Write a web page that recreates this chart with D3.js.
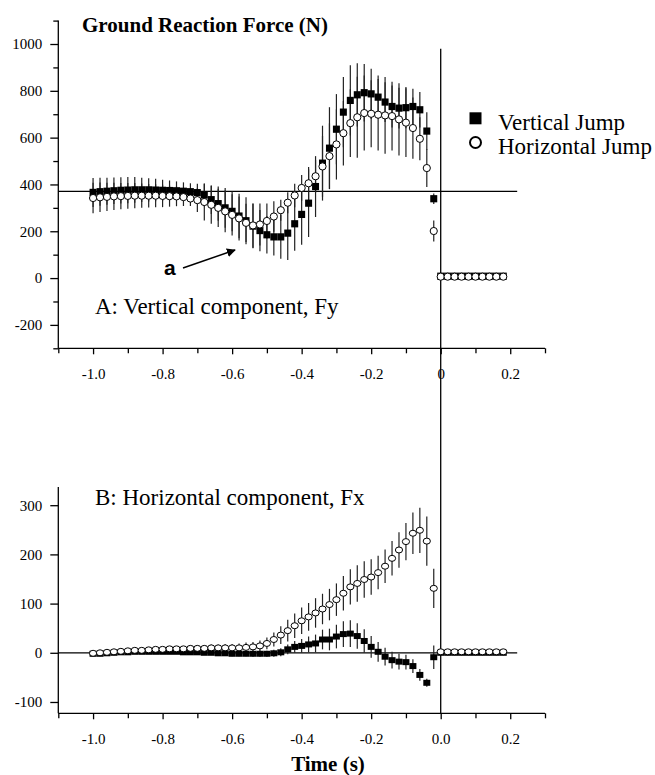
<!DOCTYPE html>
<html><head><meta charset="utf-8">
<script src="https://cdn.jsdelivr.net/npm/d3@7"></script>
<style>body{margin:0;background:#fff}svg{display:block}</style>
</head><body>
<svg id="c" width="655" height="775"></svg>
<script>
// ---------- DATA ----------
const timePre = [-1.00,-0.98,-0.96,-0.94,-0.92,-0.90,-0.88,-0.86,-0.84,-0.82,
  -0.80,-0.78,-0.76,-0.74,-0.72,-0.70,-0.68,-0.66,-0.64,-0.62,
  -0.60,-0.58,-0.56,-0.54,-0.52,-0.50,-0.48,-0.46,-0.44,-0.42,
  -0.40,-0.38,-0.36,-0.34,-0.32,-0.30,-0.28,-0.26,-0.24,-0.22,
  -0.20,-0.18,-0.16,-0.14,-0.12,-0.10,-0.08,-0.06,-0.04,-0.02];
const timePost = [0.00,0.02,0.04,0.06,0.08,0.10,0.12,0.14,0.16,0.18];

// Panel A: vertical component Fy (N)
const fyVertical = [366,369,371,373,375,376,377,377,377,376,
  375,374,373,371,369,365,355,335,318,300,
  285,265,245,222,203,185,176,176,192,232,
  272,320,391,491,555,636,709,759,783,792,
  787,773,752,733,726,728,733,719,628,339,
  8,8,8,8,8,8,8,8,8,8];
const fyVerticalSD = [62,60,58,57,56,56,55,52,50,48,
  45,43,40,38,36,38,48,61,73,85,
  85,95,100,95,88,80,80,93,115,115,
  130,145,130,160,175,150,150,150,135,123,
  107,92,85,90,87,88,76,76,80,22,
  3,3,3,3,3,3,3,3,3,3];
const fyHorizontal = [342,345,347,349,350,351,352,352,352,352,
  351,350,349,346,340,333,325,313,300,285,
  270,255,236,225,229,244,263,290,322,353,
  385,405,435,477,521,571,619,662,687,705,
  702,698,695,692,678,664,641,595,470,201,
  6,6,6,6,6,6,6,6,6,6];
const fyHorizontalSD = [65,63,60,58,56,55,54,52,50,49,
  48,45,42,38,32,51,79,81,82,89,
  88,94,82,95,90,75,65,45,45,50,
  55,70,70,130,140,150,138,145,173,160,
  143,153,164,147,154,147,131,92,81,45,
  3,3,3,3,3,3,3,3,3,3];
const bodyWeightLine = 370;

// Panel B: horizontal component Fx (N)
const fxVertical = [-2,-2,-1,0,1,1,2,2,2,2,
  2,2,2,1,1,1,0,0,-1,-1,
  -2,-2,-2,-2,-2,-2,-1,1,7,12,
  14,17,19,27,27,33,38,39,34,24,
  12,2,-8,-15,-18,-19,-27,-45,-61,-9,
  0,0,0,0,0,0,0,0,0,0];
const fxVerticalSD = [3,3,3,3,3,3,3,3,3,3,
  3,3,3,3,3,3,4,4,4,4,
  5,5,5,6,6,6,7,8,10,12,
  14,16,18,20,22,24,26,27,26,24,
  22,20,18,17,16,15,14,12,8,24,
  2,2,2,2,2,2,2,2,2,2];
const fxHorizontal = [-1,0,1,2,3,4,5,5,6,7,
  7,8,8,8,9,9,9,10,10,10,
  10,10,11,12,14,19,27,36,45,55,
  65,73,81,89,98,108,121,134,141,149,
  154,163,176,192,209,226,243,249,227,131,
  2,2,2,2,2,2,2,2,2,2];
const fxHorizontalSD = [3,3,3,3,3,4,4,4,4,4,
  5,5,5,5,6,6,6,7,7,8,
  8,9,10,10,11,12,14,18,22,25,
  27,28,30,31,32,33,35,36,37,37,
  36,34,34,35,36,38,42,46,50,40,
  2,2,2,2,2,2,2,2,2,2];

const fyTicks = [-200,0,200,400,600,800,1000];
const fyMinor = [-300,-100,100,300,500,700,900,1100];
const fxTicks = [-100,0,100,200,300];
const fxMinor = [];
const timeTicks = [-1.0,-0.8,-0.6,-0.4,-0.2,0.0,0.2];
const timeMinor = [-1.1,-0.9,-0.7,-0.5,-0.3,-0.1,0.1,0.3];
const seriesNames = ["Vertical Jump","Horizontal Jump"];

// ---------- DRAW ----------
const svg = d3.select("#c");
const serif = "'Liberation Serif','Times New Roman',serif";
const times = timePre.concat(timePost);
const hy = s => s.replace("\u2212","-");

const x = d3.scaleLinear().domain([-1.1,0.3]).range([58.3,545]);
const yA = d3.scaleLinear().domain([-300,1100]).range([348.3,20.6]);
const yB = d3.scaleLinear().domain([-123,337]).range([713.3,487]);

function panel(y, v1, s1, v2, s2, hLine, yMajor, yMinor, zeroLabel, ry, lineTop) {
  const g = svg.append("g");
  const ax = g.append("g").attr("transform","translate(58.3,0)");
  ax.call(d3.axisLeft(y).tickValues(yMajor).tickSize(8).tickPadding(8).tickFormat(d=>hy(d3.format("d")(d))));
  if (yMinor.length) {
    const am = g.append("g").attr("transform","translate(58.3,0)");
    am.call(d3.axisLeft(y).tickValues(yMinor).tickSize(5).tickFormat(""));
    am.select(".domain").remove();
  }
  ax.select(".domain").attr("d", `M0,${y.range()[1]}V${y.range()[0]}`);
  const bx = g.append("g").attr("transform",`translate(0,${y.range()[0]})`);
  bx.call(d3.axisBottom(x).tickValues(timeTicks).tickSize(6).tickPadding(14)
     .tickFormat(d => Math.abs(d)<1e-9 ? zeroLabel : hy(d3.format(".1f")(d))));
  bx.select(".domain").attr("d", `M${x.range()[0]},0H${x.range()[1]}`);
  const bm = g.append("g").attr("transform",`translate(0,${y.range()[0]})`);
  bm.call(d3.axisBottom(x).tickValues(timeMinor).tickSize(5).tickFormat(""));
  bm.select(".domain").remove();
  g.selectAll(".tick text").attr("font-family",serif).attr("font-size",15).attr("fill","#000");
  g.selectAll(".domain, .tick line").attr("stroke","#000").attr("stroke-width",1.3);

  g.append("line").attr("x1",x(-1.1)).attr("x2",x(0.22)).attr("y1",y(hLine)).attr("y2",y(hLine))
    .attr("stroke","#000").attr("stroke-width",1.3);
  g.append("line").attr("x1",x(0)).attr("x2",x(0)).attr("y1",lineTop).attr("y2",y.range()[0])
    .attr("stroke","#000").attr("stroke-width",1.3);

  const bars = g.append("g").attr("stroke","#222").attr("stroke-width",1.2);
  [[v1,s1],[v2,s2]].forEach(([v,s])=>{
    bars.selectAll(null).data(times).join("line")
      .attr("x1",d=>x(d)).attr("x2",d=>x(d))
      .attr("y1",(d,i)=>y(v[i]+s[i])).attr("y2",(d,i)=>y(v[i]-s[i]));
  });
  g.append("g").selectAll("rect").data(times).join("rect")
    .attr("x",d=>x(d)-3.5).attr("y",(d,i)=>y(v1[i])-ry)
    .attr("width",7).attr("height",ry*2).attr("fill","#000");
  g.append("g").selectAll("ellipse").data(times).join("ellipse")
    .attr("cx",d=>x(d)).attr("cy",(d,i)=>y(v2[i]))
    .attr("rx",3.6).attr("ry",ry).attr("fill","#fff").attr("stroke","#000").attr("stroke-width",1);
  return g;
}

panel(yA, fyVertical, fyVerticalSD, fyHorizontal, fyHorizontalSD, bodyWeightLine, fyTicks, fyMinor, "0", 3.6, yA(980));
panel(yB, fxVertical, fxVerticalSD, fxHorizontal, fxHorizontalSD, 0, fxTicks, fxMinor, "0.0", 3.0, 348.3);

svg.append("text").attr("x",82).attr("y",32).attr("font-family",serif).attr("font-weight","bold")
  .attr("font-size",21).text("Ground Reaction Force (N)");
svg.append("text").attr("x",95).attr("y",314).attr("font-family",serif).attr("font-size",23)
  .text("A: Vertical component, Fy");
svg.append("text").attr("x",95).attr("y",505).attr("font-family",serif).attr("font-size",23)
  .text("B: Horizontal component, Fx");
svg.append("text").attr("x",328).attr("y",771).attr("text-anchor","middle").attr("font-family",serif)
  .attr("font-weight","bold").attr("font-size",21).text("Time (s)");

svg.append("rect").attr("x",469.5).attr("y",112.3).attr("width",12).attr("height",12).attr("fill","#000");
svg.append("circle").attr("cx",475.5).attr("cy",142.5).attr("r",5.5).attr("fill","#fff")
  .attr("stroke","#000").attr("stroke-width",2);
svg.append("text").attr("x",498).attr("y",130).attr("font-family",serif).attr("font-size",23).text(seriesNames[0]);
svg.append("text").attr("x",498).attr("y",154).attr("font-family",serif).attr("font-size",23).text(seriesNames[1]);

svg.append("defs").append("marker").attr("id","ah").attr("viewBox","0 0 10 10").attr("refX",9).attr("refY",5)
  .attr("markerWidth",6).attr("markerHeight",6).attr("markerUnits","strokeWidth").attr("orient","auto")
  .append("path").attr("d","M0,0L10,5L0,10z").attr("fill","#000");
svg.append("text").attr("x",164).attr("y",275).attr("font-family","'Liberation Sans',Arial,sans-serif")
  .attr("font-weight","bold").attr("font-size",21).text("a");
svg.append("line").attr("x1",183).attr("y1",268).attr("x2",235).attr("y2",250)
  .attr("stroke","#000").attr("stroke-width",1.5).attr("marker-end","url(#ah)");
</script>
</body></html>
